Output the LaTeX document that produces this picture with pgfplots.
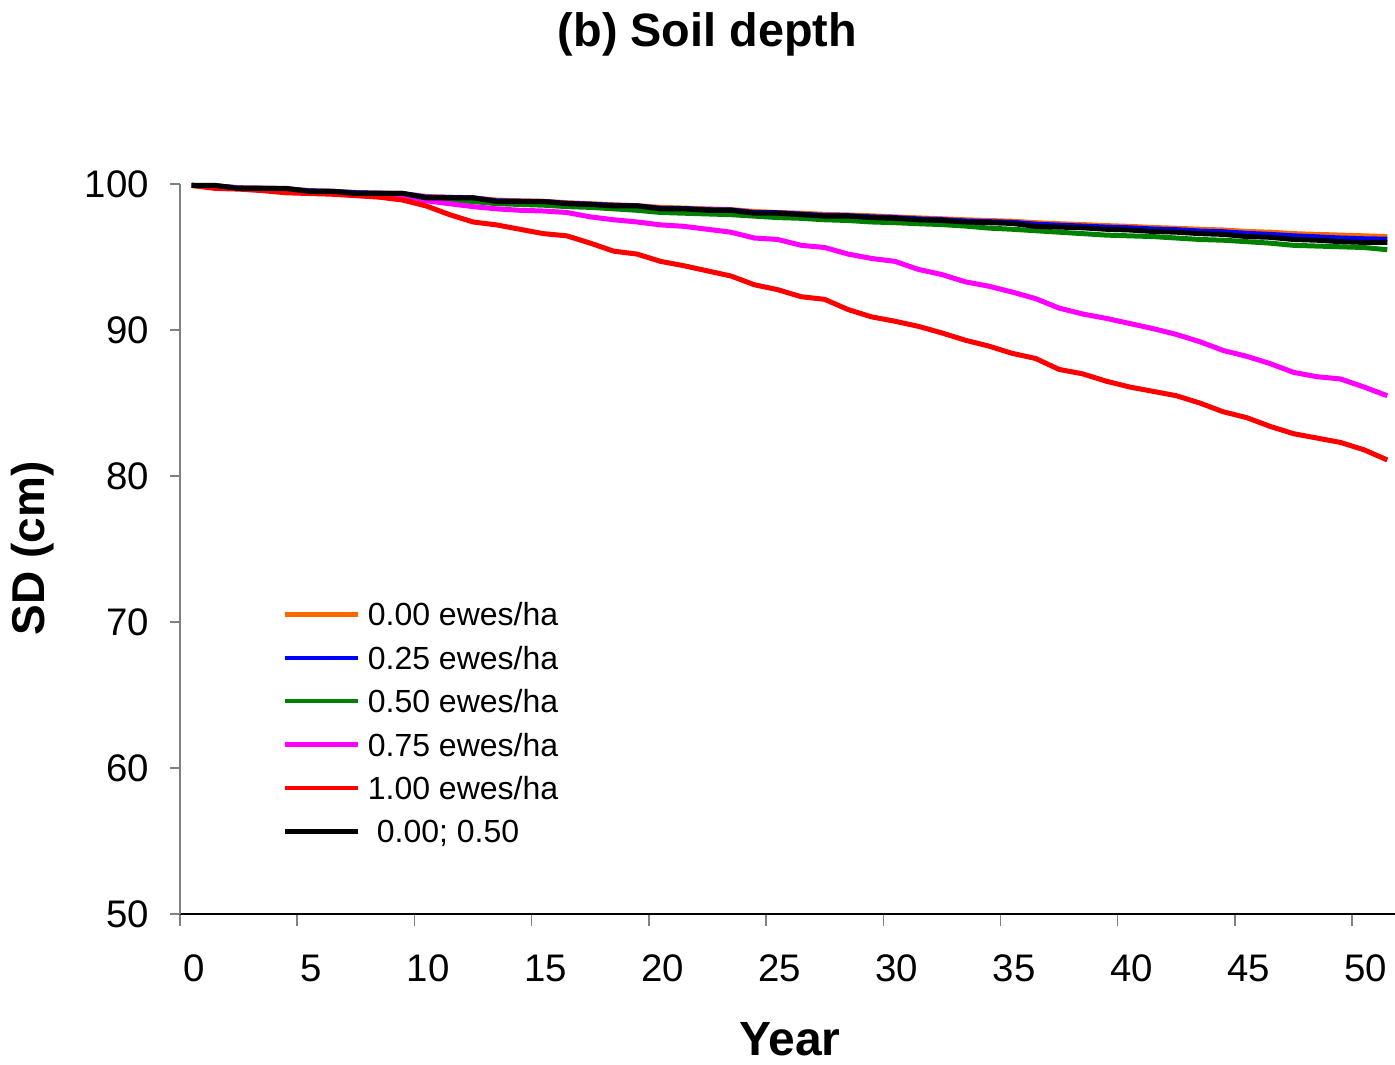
\documentclass[border=0pt]{standalone}
\usepackage{fontspec}
\setmainfont{Liberation Sans}
\usepackage{pgfplots}
\usepackage{pgfplotstable}
\pgfplotsset{compat=1.18}
\definecolor{cOrange}{RGB}{255,102,0}
\definecolor{cBlue}{RGB}{0,0,255}
\definecolor{cGreen}{RGB}{0,128,0}
\definecolor{cMagenta}{RGB}{255,0,255}
\definecolor{cRed}{RGB}{255,0,0}
\definecolor{cGray}{RGB}{128,128,128}
\pgfplotstableread{
year orange blue green magenta red black
0 99.90 99.90 99.90 99.90 99.90 99.90
1 99.88 99.88 99.85 99.85 99.70 99.90
2 99.75 99.73 99.70 99.72 99.65 99.70
3 99.72 99.71 99.65 99.65 99.55 99.70
4 99.68 99.68 99.60 99.58 99.40 99.70
5 99.55 99.53 99.45 99.45 99.35 99.50
6 99.50 99.50 99.40 99.38 99.30 99.50
7 99.42 99.40 99.30 99.25 99.20 99.35
8 99.38 99.37 99.25 99.15 99.10 99.35
9 99.35 99.35 99.20 99.05 98.90 99.35
10 99.15 99.10 98.95 98.85 98.50 99.05
11 99.10 99.07 98.90 98.65 97.90 99.05
12 99.05 99.05 98.80 98.45 97.40 99.05
13 98.90 98.85 98.65 98.30 97.20 98.80
14 98.85 98.82 98.60 98.20 96.90 98.80
15 98.82 98.80 98.55 98.15 96.60 98.80
16 98.72 98.68 98.45 98.05 96.45 98.65
17 98.65 98.62 98.40 97.75 95.95 98.60
18 98.58 98.54 98.30 97.55 95.40 98.50
19 98.52 98.50 98.20 97.40 95.20 98.50
20 98.40 98.34 98.05 97.20 94.70 98.30
21 98.35 98.32 98.00 97.10 94.40 98.30
22 98.30 98.24 97.95 96.90 94.05 98.20
23 98.25 98.22 97.90 96.70 93.70 98.20
24 98.12 98.05 97.80 96.30 93.10 98.00
25 98.05 98.03 97.70 96.20 92.76 98.00
26 98.00 97.94 97.65 95.80 92.28 97.90
27 97.92 97.85 97.55 95.65 92.10 97.80
28 97.88 97.83 97.50 95.20 91.40 97.80
29 97.82 97.75 97.40 94.90 90.90 97.70
30 97.75 97.70 97.35 94.70 90.60 97.65
31 97.68 97.61 97.28 94.15 90.25 97.55
32 97.62 97.56 97.22 93.80 89.80 97.50
33 97.55 97.47 97.12 93.30 89.30 97.40
34 97.50 97.42 96.98 93.00 88.90 97.35
35 97.45 97.38 96.90 92.60 88.40 97.30
36 97.35 97.25 96.80 92.15 88.05 97.10
37 97.28 97.18 96.70 91.50 87.30 97.05
38 97.22 97.12 96.60 91.10 87.00 97.00
39 97.15 97.05 96.50 90.80 86.50 96.90
40 97.10 97.00 96.45 90.45 86.10 96.85
41 97.02 96.92 96.40 90.10 85.80 96.75
42 96.97 96.87 96.30 89.70 85.50 96.70
43 96.90 96.78 96.20 89.20 85.00 96.60
44 96.85 96.73 96.15 88.60 84.40 96.55
45 96.75 96.62 96.05 88.20 84.00 96.40
46 96.70 96.55 95.95 87.70 83.40 96.35
47 96.60 96.45 95.80 87.10 82.90 96.20
48 96.55 96.38 95.75 86.80 82.60 96.15
49 96.50 96.30 95.70 86.65 82.30 96.05
50 96.45 96.25 95.65 86.10 81.80 96.00
51 96.40 96.22 95.50 85.50 81.10 96.00
}\sdtable
\begin{document}
\begin{tikzpicture}
\useasboundingbox (0,0) rectangle (697.5pt,-532pt);
\begin{axis}[
  at={(90pt,-457pt)}, anchor=south west,
  scale only axis, width=607.5pt, height=365pt,
  xmin=-0.5, xmax=51.33, ymin=50, ymax=100,
  clip=false,
  axis x line*=bottom, axis y line*=left,
  x axis line style={-, black, line width=1pt},
  y axis line style={-, cGray, line width=1pt},
  tick align=outside,
  xtick={0,5,...,50},
  major x tick style={draw=none},
  minor xtick={-0.5,4.5,...,49.5},
  minor x tick style={cGray, line width=0.75pt},
  minor tick length=6pt,
  major tick length=5pt,
  ytick={50,60,...,100},
  major y tick style={cGray, line width=0.75pt},
  /pgf/number format/assume math mode=true,
  ticklabel style={font=\fontsize{19.2}{20}\selectfont},
  xticklabel style={yshift=-12pt, xshift=1pt},
  yticklabel style={xshift=-7pt},
  title={(b) Soil depth},
  title style={font=\bfseries\fontsize{23.4}{24}\selectfont, at={(axis description cs:0.434,1.189)}, anchor=center},
  xlabel={Year},
  xlabel style={font=\bfseries\fontsize{24}{25}\selectfont, at={(axis description cs:0.502,-0.172)}, anchor=center},
  ylabel={SD (cm)},
  ylabel style={font=\bfseries\fontsize{23}{24}\selectfont, at={(axis description cs:-0.121,0.501)}, anchor=center},
  legend image code/.code={\draw[#1, line width=2.2pt] (0pt,0pt) -- (36.5pt,0pt);},
  legend cell align=left,
  legend style={draw=none, fill=none, inner sep=0pt,
    at={(axis description cs:0.0840,0.4267)}, anchor=north west,
    font=\fontsize{16}{16}\selectfont,
    nodes={inner sep=0pt, text height=11.5pt, text depth=0pt},
    row sep=10.2pt, column sep=4pt},
]
\addplot[cOrange, line width=2.5pt] table[x=year, y=orange] {\sdtable};
\addplot[cBlue, line width=2.5pt] table[x=year, y=blue] {\sdtable};
\addplot[cGreen, line width=2.5pt] table[x=year, y=green] {\sdtable};
\addplot[cMagenta, line width=2.5pt] table[x=year, y=magenta] {\sdtable};
\addplot[cRed, line width=2.5pt] table[x=year, y=red] {\sdtable};
\addplot[black, line width=2.5pt] table[x=year, y=black] {\sdtable};
\legend{0.00 ewes/ha, 0.25 ewes/ha, 0.50 ewes/ha, 0.75 ewes/ha, 1.00 ewes/ha, {\hspace{4.5pt}0.00; 0.50}}
\end{axis}
\end{tikzpicture}
\end{document}
